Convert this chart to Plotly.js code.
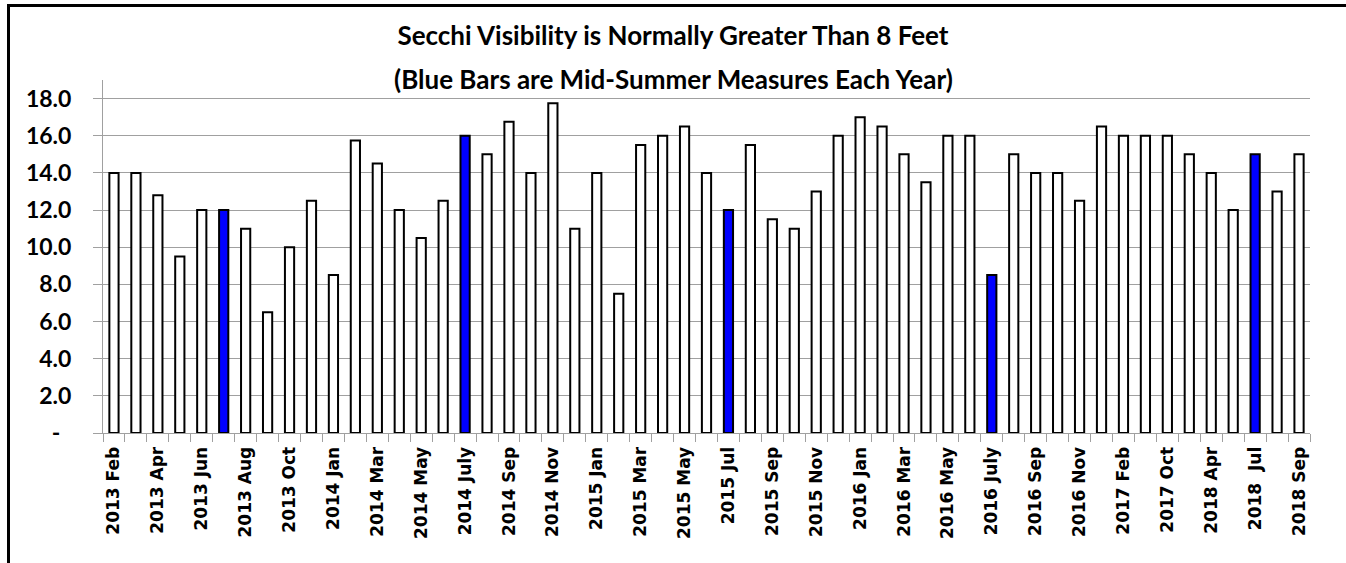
<!DOCTYPE html>
<html>
<head>
<meta charset="utf-8">
<script src="https://cdn.plot.ly/plotly-3.0.1.min.js"></script>
<style>
  html, body { margin: 0; padding: 0; background: #fff; }
  #wrap { position: relative; width: 1346px; height: 563px; overflow: hidden; }
  #chart { position: absolute; left: 0; top: 0; width: 1346px; height: 563px; }
  #bl { position: absolute; left: 7px; top: 4px; width: 3px; height: 559px; background: #000; }
  #bt { position: absolute; left: 7px; top: 4px; width: 1339px; height: 3px; background: #000; }
</style>
</head>
<body>
<div id="wrap">
  <div id="chart"></div>
  <div id="bl"></div>
  <div id="bt"></div>
</div>
<script>
// Sampling dates (every bar); only some are printed on the axis
const categories = [
  "2013 Feb","2013 Mar","2013 Apr","2013 May","2013 Jun","2013 Jul","2013 Aug","2013 Sep","2013 Oct","2013 Nov",
  "2014 Jan","2014 Feb","2014 Mar","2014 Apr","2014 May","2014 Jun","2014 July","2014 Aug","2014 Sep","2014 Oct",
  "2014 Nov","2014 Dec","2015 Jan","2015 Feb","2015 Mar","2015 Apr","2015 May","2015 Jun","2015 Jul","2015 Aug",
  "2015 Sep","2015 Oct","2015 Nov","2015 Dec","2016 Jan","2016 Feb","2016 Mar","2016 Apr","2016 May","2016 Jun",
  "2016 July","2016 Aug","2016 Sep","2016 Oct","2016 Nov","2016 Dec","2017 Feb","2017 Jun","2017 Oct","2018 Jan",
  "2018 Apr","2018 Jun","2018 Jul","2018 Aug","2018 Sep"
];

// Secchi visibility (feet)
const visibility = [
  14.0,14.0,12.8,9.5,12.0,12.0,11.0,6.5,10.0,12.5,
  8.5,15.75,14.5,12.0,10.5,12.5,16.0,15.0,16.75,14.0,
  17.75,11.0,14.0,7.5,15.5,16.0,16.5,14.0,12.0,15.5,
  11.5,11.0,13.0,16.0,17.0,16.5,15.0,13.5,16.0,16.0,
  8.5,15.0,14.0,14.0,12.5,16.5,16.0,16.0,16.0,15.0,
  14.0,12.0,15.0,13.0,15.0
];

// Mid-summer measures (blue bars)
const midSummer = ["2013 Jul","2014 July","2015 Jul","2016 July","2018 Jul"];

// Category labels printed on the x axis
const shownLabels = [
  "2013 Feb","2013 Apr","2013 Jun","2013 Aug","2013 Oct","2014 Jan","2014 Mar","2014 May","2014 July","2014 Sep",
  "2014 Nov","2015 Jan","2015 Mar","2015 May","2015 Jul","2015 Sep","2015 Nov","2016 Jan","2016 Mar","2016 May",
  "2016 July","2016 Sep","2016 Nov","2017 Feb","2017 Oct","2018 Apr","2018\u00a0\u00a0Jul","2018 Sep"
];

// Y axis ticks
const yTickVals = [0,2,4,6,8,10,12,14,16,18];
const yTickText = ["-\u00a0\u00a0","2.0","4.0","6.0","8.0","10.0","12.0","14.0","16.0","18.0"];

const titleLine1 = "Secchi Visibility is Normally Greater Than 8 Feet";
const titleLine2 = "(Blue Bars are Mid-Summer Measures Each Year)";

const norm = s => s.replace(/\u00a0+/g, " ");
const shownSet = shownLabels.map(norm);
const tickText = categories.map(c => {
  const i = shownSet.indexOf(c);
  return i >= 0 ? shownLabels[i] : "";
});
const fills = categories.map(c => midSummer.includes(c) ? "#0000FF" : "#FFFFFF");

const trace = {
  type: "bar",
  x: categories,
  y: visibility,
  marker: { color: fills, line: { color: "#000000", width: 2 } },
  hoverinfo: "x+y"
};

const titleFont = { family: "Lato", size: 26, weight: "bold", color: "#000" };

const layout = {
  width: 1346, height: 563,
  margin: { l: 103, r: 36, t: 80, b: 130, pad: 0 },
  paper_bgcolor: "#ffffff", plot_bgcolor: "#ffffff",
  showlegend: false,
  bargap: 0.58,
  title: {
    text: titleLine1,
    font: titleFont,
    x: 0.5, xanchor: "center", xref: "container",
    y: 1 - 36 / 563, yref: "container", yanchor: "middle"
  },
  annotations: [{
    text: titleLine2,
    xref: "paper", yref: "paper",
    x: (673 - 103) / 1207, y: 1 + (80 - 79) / 353,
    xanchor: "center", yanchor: "middle",
    showarrow: false,
    font: titleFont
  }],
  xaxis: {
    type: "category",
    tickmode: "array", tickvals: categories, ticktext: tickText,
    tickangle: -90,
    tickson: "boundaries",
    ticks: "outside", ticklen: 8, tickcolor: "#a0a0a0", tickwidth: 1,
    ticklabelstandoff: 6,
    showgrid: false,
    showline: true, linecolor: "#a0a0a0", linewidth: 1,
    tickfont: { family: "DejaVu Sans", size: 17, weight: "bold", color: "#000" },
    fixedrange: true
  },
  yaxis: {
    range: [0, 19],
    tickmode: "array", tickvals: yTickVals, ticktext: yTickText,
    ticks: "outside", ticklen: 9, tickcolor: "#a0a0a0", tickwidth: 1,
    ticklabelstandoff: 17,
    showgrid: true, gridcolor: "#a0a0a0", gridwidth: 1,
    showline: true, linecolor: "#a0a0a0", linewidth: 1,
    zeroline: false,
    tickfont: { family: "Lato", size: 23, weight: "bold", color: "#000" },
    fixedrange: true
  }
};

Plotly.newPlot("chart", [trace], layout, { displayModeBar: false, staticPlot: true });
</script>
</body>
</html>
